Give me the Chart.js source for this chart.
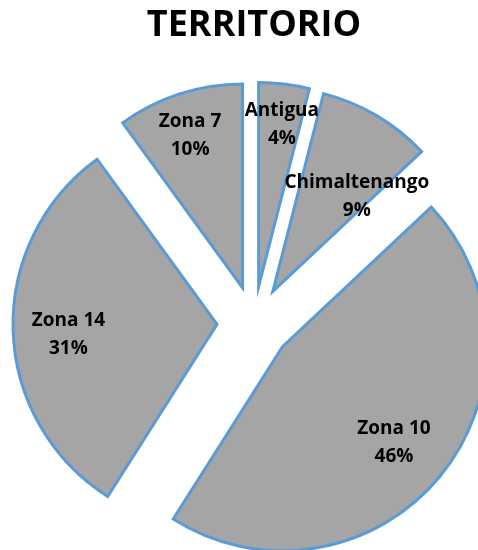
<!DOCTYPE html>
<html>
<head>
<meta charset="utf-8">
<title>TERRITORIO</title>
<script src="https://cdn.jsdelivr.net/npm/chart.js@4.4.1/dist/chart.umd.min.js"></script>
<style>
  html, body { margin: 0; padding: 0; background: #fff; }
  #wrap { width: 478px; height: 550px; }
</style>
</head>
<body>
<div id="wrap"><canvas id="chart"></canvas></div>
<script>
// ================================
// PIE TERRITORIO
// ================================

const zonas = ["Antigua", "Chimaltenango", "Zona 10", "Zona 14", "Zona 7"];
const porcentajes = [4, 9, 46, 31, 10];

// donde va cada etiqueta (fraccion del radio, giro en grados)
const etiquetaRadio = [0.80, 0.62, 0.72, 0.73, 0.79];
const etiquetaGiro = [1, 11, 1, -2, -1];

const SEPARACION = 37; // explosion de cada porcion, px

// separa cada porcion del centro, como el pie "explotado" de Excel
const explotar = {
  id: "explotar",
  afterDatasetsUpdate(chart) {
    chart.getDatasetMeta(0).data.forEach((arc) => {
      const mid = (arc.startAngle + arc.endAngle) / 2;
      arc.x += Math.cos(mid) * SEPARACION;
      arc.y += Math.sin(mid) * SEPARACION;
    });
  }
};

// nombre + porcentaje dentro de cada porcion
const etiquetas = {
  id: "etiquetas",
  afterDatasetsDraw(chart) {
    const ctx = chart.ctx;
    const total = porcentajes.reduce((a, b) => a + b, 0);
    ctx.save();
    ctx.font = "bold 19px 'Open Sans'";
    ctx.fillStyle = "#000";
    ctx.textAlign = "center";
    ctx.textBaseline = "middle";
    chart.getDatasetMeta(0).data.forEach((arc, i) => {
      const ang = (arc.startAngle + arc.endAngle) / 2 + etiquetaGiro[i] * Math.PI / 180;
      const r = arc.outerRadius * etiquetaRadio[i];
      const x = arc.x + Math.cos(ang) * r;
      const y = arc.y + Math.sin(ang) * r;
      ctx.fillText(zonas[i], x, y - 14);
      ctx.fillText(Math.round(porcentajes[i] / total * 100) + "%", x, y + 14);
    });
    ctx.restore();
  }
};

new Chart(document.getElementById("chart").getContext("2d"), {
  type: "pie",
  data: {
    labels: zonas,
    datasets: [
      {
        data: porcentajes,
        backgroundColor: "#a5a5a5",
        borderColor: "#5b9bd5",
        borderWidth: 3,
        borderJoinStyle: "miter"
      }
    ]
  },
  options: {
    responsive: true,
    maintainAspectRatio: false,
    animation: false,
    events: [],
    radius: 204,
    layout: { padding: { top: 0, left: 30, right: 0, bottom: 0 } },
    plugins: {
      legend: { display: false },
      tooltip: { enabled: false },
      title: {
        display: true,
        text: "TERRITORIO",
        color: "#000",
        font: { family: "'Open Sans'", size: 36, weight: "bold", lineHeight: 1.2 },
        padding: { top: 4, bottom: 49 }
      }
    }
  },
  plugins: [explotar, etiquetas]
});
</script>
</body>
</html>
